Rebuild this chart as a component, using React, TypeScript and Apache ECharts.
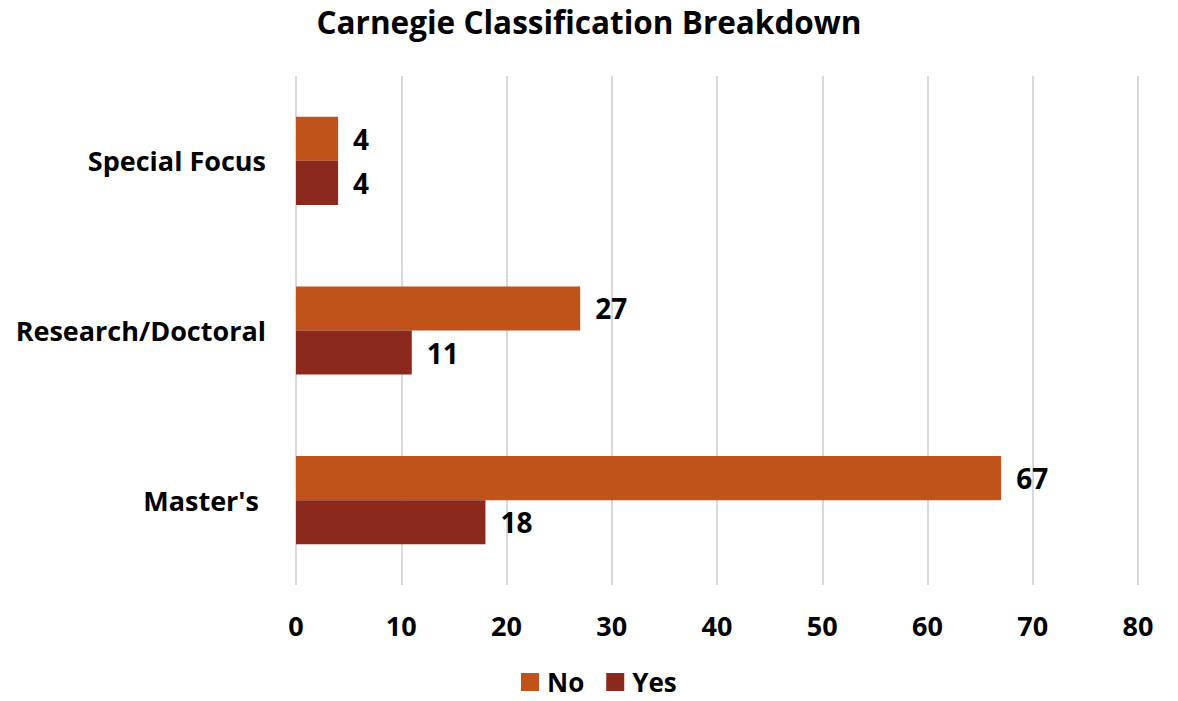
import React, { useEffect, useRef } from "react";
import * as echarts from "echarts";

const categories = ["Special Focus", "Research/Doctoral", "Master's "];
const noValues = [4, 27, 67];
const yesValues = [4, 11, 18];
const seriesNames = ["No", "Yes"];
const xTicks = [0, 80, 10];

const FONT = "'Open Sans', 'Noto Sans', sans-serif";

export default function App() {
  const ref = useRef<HTMLDivElement>(null);
  useEffect(() => {
    document.body.style.margin = "0";
    const chart = echarts.init(ref.current!, undefined, { renderer: "svg" });
    const labelStyle = {
      show: true,
      position: "right" as const,
      distance: 15,
      fontFamily: FONT,
      fontWeight: "bold" as const,
      fontSize: 28,
      color: "#000",
    };
    chart.setOption({
      animation: false,
      backgroundColor: "#fff",
      title: {
        text: "Carnegie Classification Breakdown",
        left: "center",
        top: 0,
        textStyle: { fontFamily: FONT, fontWeight: "bold", fontSize: 31.5, color: "#000" },
      },
      legend: {
        data: seriesNames,
        top: 669,
        left: 521,
        padding: 0,
        itemWidth: 18,
        itemHeight: 18,
        itemGap: 22,
        icon: "rect",
        textStyle: {
          fontFamily: FONT,
          fontWeight: "bold",
          fontSize: 26,
          lineHeight: 26,
          color: "#000",
          padding: [0, 0, 0, 3],
        },
      },
      grid: { left: 296, right: 40, top: 76, bottom: 116, containLabel: false },
      xAxis: {
        type: "value",
        min: xTicks[0],
        max: xTicks[1],
        interval: xTicks[2],
        axisLine: { show: false },
        axisTick: { show: false },
        splitLine: { show: true, lineStyle: { color: "#D9D9D9", width: 2 } },
        axisLabel: { margin: 27, fontFamily: FONT, fontWeight: "bold", fontSize: 27, color: "#000" },
      },
      yAxis: {
        type: "category",
        data: categories,
        inverse: true,
        axisLine: { show: false },
        axisTick: { show: false },
        axisLabel: { margin: 30, fontFamily: FONT, fontWeight: "bold", fontSize: 27, color: "#000" },
      },
      series: [
        {
          name: seriesNames[0],
          type: "bar",
          data: noValues,
          barGap: "0%",
          barCategoryGap: "48%",
          itemStyle: { color: "#C0531A" },
          label: labelStyle,
        },
        {
          name: seriesNames[1],
          type: "bar",
          data: yesValues,
          barGap: "0%",
          barCategoryGap: "48%",
          itemStyle: { color: "#8B2A1C" },
          label: labelStyle,
        },
      ],
    });
    return () => chart.dispose();
  }, []);
  return <div ref={ref} style={{ width: 1178, height: 701 }} />;
}
